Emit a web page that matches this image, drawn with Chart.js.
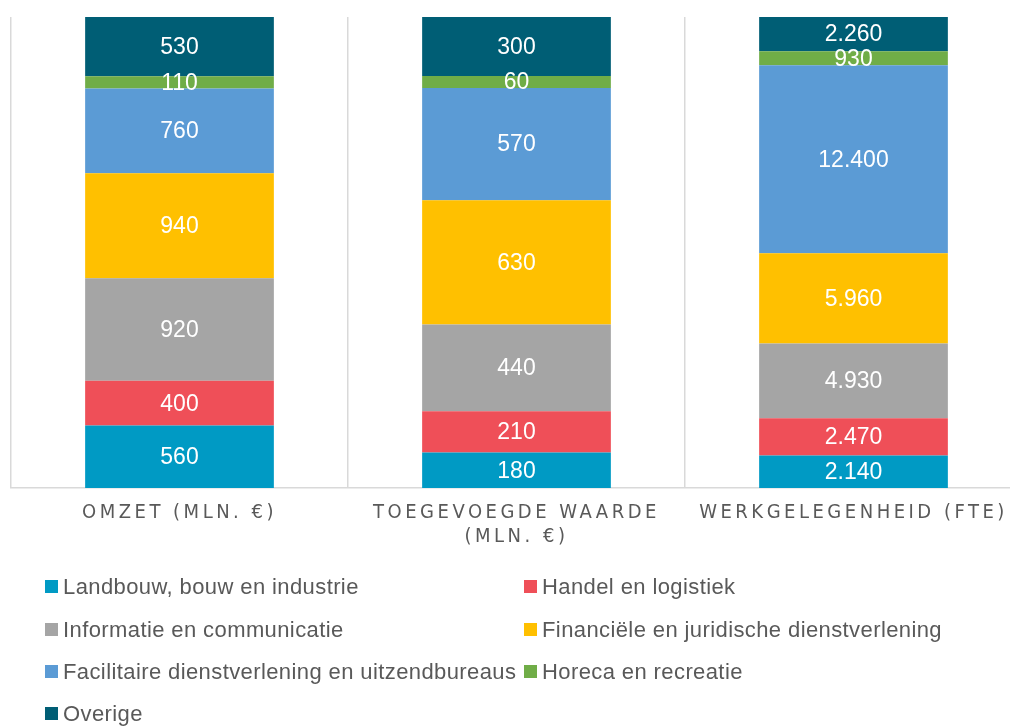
<!DOCTYPE html>
<html>
<head>
<meta charset="utf-8">
<script src="https://cdn.jsdelivr.net/npm/chart.js@4"></script>
<style>
  html, body { margin: 0; padding: 0; background: #fff; overflow: hidden; width: 1010px; height: 726px; }
  #wrap { position: absolute; left: 0; top: 0; width: 1030px; height: 572px; }
  #legend { position: absolute; left: 0; top: 0; width: 1010px; height: 726px; pointer-events: none;
            font-family: "Liberation Sans", Arial, sans-serif; font-size: 22px; letter-spacing: 0.4px; color: #595959; }
  .item { position: absolute; white-space: nowrap; line-height: 26px; }
  .box { display: inline-block; width: 13px; height: 13px; margin-right: 5px; vertical-align: 1px; }
</style>
</head>
<body>
<div id="wrap"><canvas id="c"></canvas></div>
<div id="legend"></div>
<script>
const categories = [['OMZET (MLN. €)'], ['TOEGEVOEGDE WAARDE', '(MLN. €)'], ['WERKGELEGENHEID (FTE)']];
const seriesNames = [
  'Landbouw, bouw en industrie',
  'Handel en logistiek',
  'Informatie en communicatie',
  'Financiële en juridische dienstverlening',
  'Facilitaire dienstverlening en uitzendbureaus',
  'Horeca en recreatie',
  'Overige'
];
const landbouw    = [560, 180, 2140];
const handel      = [400, 210, 2470];
const informatie  = [920, 440, 4930];
const financieel  = [940, 630, 5960];
const facilitair  = [760, 570, 12400];
const horeca      = [110, 60, 930];
const overige     = [530, 300, 2260];
const colors = ['#009AC4', '#EF4F58', '#A5A5A5', '#FFC000', '#5B9BD5', '#70AD47', '#005E75'];

const raw = [landbouw, handel, informatie, financieel, facilitair, horeca, overige];
const totals = categories.map((_, i) => raw.reduce((s, arr) => s + arr[i], 0));

function fmt(v) { return String(v).replace(/\B(?=(\d{3})+(?!\d))/g, '.'); }

const datasets = raw.map((arr, k) => ({
  label: seriesNames[k],
  data: arr.map((v, i) => v / totals[i] * 100),
  rawValues: arr,
  backgroundColor: colors[k],
  borderWidth: 0,
  barPercentage: 0.56,
  categoryPercentage: 1.0
}));

const spacingPlugin = {
  id: 'spacing',
  beforeDraw(chart) { chart.ctx.letterSpacing = '3.5px'; },
  beforeDatasetsDraw(chart) { chart.ctx.letterSpacing = '0px'; }
};

const labelPlugin = {
  id: 'vals',
  afterDatasetsDraw(chart) {
    const ctx = chart.ctx;
    ctx.save();
    ctx.letterSpacing = '0px';
    ctx.font = '23px "Liberation Sans", Arial, sans-serif';
    ctx.fillStyle = '#ffffff';
    ctx.textAlign = 'center';
    ctx.textBaseline = 'middle';
    chart.data.datasets.forEach((ds, di) => {
      const meta = chart.getDatasetMeta(di);
      meta.data.forEach((el, i) => {
        const y = (el.y + el.base) / 2;
        ctx.fillText(fmt(ds.rawValues[i]), el.x, y + 1);
      });
    });
    ctx.restore();
  }
};

const chart = new Chart(document.getElementById('c'), {
  type: 'bar',
  data: { labels: categories, datasets },
  options: {
    responsive: true,
    maintainAspectRatio: false,
    animation: false,
    layout: { padding: { left: 11, right: 8, top: 17, bottom: 10 } },
    plugins: { legend: { display: false }, tooltip: { enabled: false } },
    scales: {
      x: {
        stacked: true,
        grid: { display: true, offset: true, color: '#D9D9D9', lineWidth: 1.5, drawTicks: false },
        border: { display: true, color: '#D9D9D9', width: 1.5 },
        ticks: {
          autoSkip: false, maxRotation: 0, padding: 13, color: '#595959',
          font: { family: '"Liberation Sans Narrow", "DejaVu Sans Condensed", "Liberation Sans", sans-serif', size: 20, lineHeight: 1.2 }
        }
      },
      y: { stacked: true, display: false, min: 0, max: 100 }
    }
  },
  plugins: [spacingPlugin, labelPlugin]
});

const legendPos = [
  [45, 587], [524, 587],
  [45, 630], [524, 630],
  [45, 672], [524, 672],
  [45, 714]
];
const lg = document.getElementById('legend');
chart.data.datasets.forEach((ds, k) => {
  const d = document.createElement('div');
  d.className = 'item';
  d.style.left = legendPos[k][0] + 'px';
  d.style.top = (legendPos[k][1] - 13) + 'px';
  const b = document.createElement('span');
  b.className = 'box';
  b.style.background = ds.backgroundColor;
  d.appendChild(b);
  d.appendChild(document.createTextNode(ds.label));
  lg.appendChild(d);
});
</script>
</body>
</html>
